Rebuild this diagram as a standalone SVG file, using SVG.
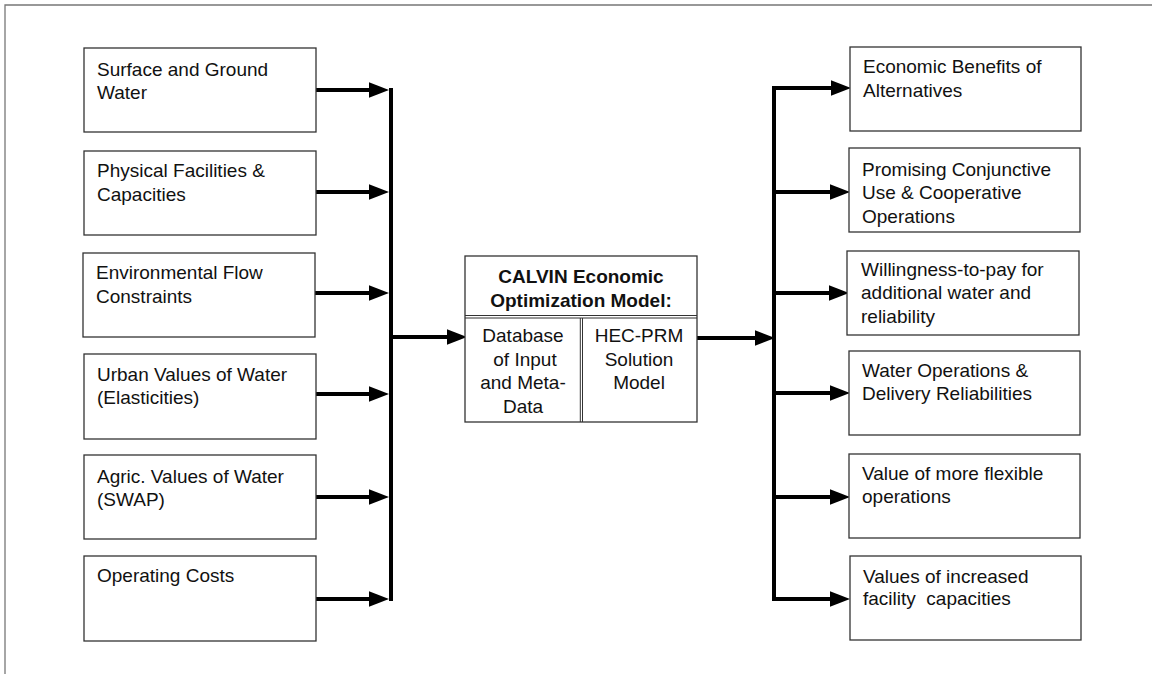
<svg xmlns="http://www.w3.org/2000/svg" width="1152" height="674" viewBox="0 0 1152 674">
<style>
.box{fill:#fff;stroke:#333;stroke-width:1.3}
.t{font-family:"Liberation Sans",Arial,sans-serif;font-size:19px;fill:#111}
.c{text-anchor:middle}
.b{font-weight:bold}
.ln{stroke:#000;stroke-width:4;fill:none}
.ar{stroke:#000;stroke-width:4;fill:none;marker-end:url(#ah)}
.frame{stroke:#777;stroke-width:1.3;fill:none}
</style>
<defs>
<marker id="ah" markerUnits="userSpaceOnUse" markerWidth="20" markerHeight="16" refX="0" refY="7" orient="auto" viewBox="0 0 18 14">
<path d="M0,0 L18,7 L0,14 z" fill="#000"/>
</marker>
</defs>
<rect width="1152" height="674" fill="#fff"/>
<path class="frame" d="M5,674 V5 H1152"/>

<g id="connectors">
<line class="ar" x1="316" y1="90" x2="369" y2="90"/>
<line class="ar" x1="316" y1="192" x2="369" y2="192"/>
<line class="ar" x1="315" y1="293" x2="369" y2="293"/>
<line class="ar" x1="316" y1="394" x2="369" y2="394"/>
<line class="ar" x1="316" y1="497" x2="369" y2="497"/>
<line class="ar" x1="316" y1="599" x2="369" y2="599"/>
<line class="ln" x1="391" y1="88" x2="391" y2="601"/>
<line class="ar" x1="391" y1="337" x2="447" y2="337"/>
<line class="ar" x1="697" y1="338" x2="755" y2="338"/>
<line class="ln" x1="774" y1="86" x2="774" y2="601"/>
<line class="ar" x1="772" y1="88" x2="831" y2="88"/>
<line class="ar" x1="772" y1="192" x2="830" y2="192"/>
<line class="ar" x1="772" y1="293" x2="829" y2="293"/>
<line class="ar" x1="772" y1="393" x2="830" y2="393"/>
<line class="ar" x1="772" y1="497" x2="830" y2="497"/>
<line class="ar" x1="772" y1="599" x2="830" y2="599"/>
</g>

<g id="in1"><rect class="box" x="84" y="48" width="232" height="84"/>
<text class="t" x="97" y="76">Surface and Ground</text><text class="t" x="97" y="99">Water</text></g>
<g id="in2"><rect class="box" x="84" y="151" width="232" height="84"/>
<text class="t" x="97" y="177">Physical Facilities &amp;</text><text class="t" x="97" y="201">Capacities</text></g>
<g id="in3"><rect class="box" x="83" y="253" width="232" height="84"/>
<text class="t" x="96" y="279">Environmental Flow</text><text class="t" x="96" y="303">Constraints</text></g>
<g id="in4"><rect class="box" x="84" y="354" width="232" height="85"/>
<text class="t" x="97" y="381">Urban Values of Water</text><text class="t" x="97" y="404">(Elasticities)</text></g>
<g id="in5"><rect class="box" x="84" y="455" width="232" height="84"/>
<text class="t" x="97" y="483">Agric. Values of Water</text><text class="t" x="97" y="506">(SWAP)</text></g>
<g id="in6"><rect class="box" x="84" y="556" width="232" height="85"/>
<text class="t" x="97" y="582">Operating Costs</text></g>

<g id="calvin">
<rect class="box" x="465" y="256" width="232" height="166"/>
<line stroke="#333" stroke-width="1" x1="465" y1="315.5" x2="697" y2="315.5"/>
<line stroke="#333" stroke-width="1" x1="465" y1="318" x2="697" y2="318"/>
<line stroke="#333" stroke-width="1" x1="580.3" y1="318" x2="580.3" y2="422"/>
<line stroke="#333" stroke-width="1" x1="582.5" y1="318" x2="582.5" y2="422"/>
<text class="t b c" x="581" y="283">CALVIN Economic</text>
<text class="t b c" x="581" y="307">Optimization Model:</text>
<text class="t c" x="523" y="342">Database</text>
<text class="t c" x="525" y="366">of Input</text>
<text class="t c" x="523" y="389">and Meta-</text>
<text class="t c" x="523" y="413">Data</text>
<text class="t c" x="639" y="342">HEC-PRM</text>
<text class="t c" x="639" y="366">Solution</text>
<text class="t c" x="639" y="389">Model</text>
</g>

<g id="out1"><rect class="box" x="850" y="47" width="231" height="84"/>
<text class="t" x="863" y="73">Economic Benefits of</text><text class="t" x="863" y="97">Alternatives</text></g>
<g id="out2"><rect class="box" x="849" y="148" width="231" height="84"/>
<text class="t" x="862" y="176">Promising Conjunctive</text><text class="t" x="862" y="199">Use &amp; Cooperative</text><text class="t" x="862" y="223">Operations</text></g>
<g id="out3"><rect class="box" x="847" y="251" width="232" height="84"/>
<text class="t" x="861" y="276">Willingness-to-pay for</text><text class="t" x="861" y="299">additional water and</text><text class="t" x="861" y="323">reliability</text></g>
<g id="out4"><rect class="box" x="849" y="351" width="231" height="84"/>
<text class="t" x="862" y="377">Water Operations &amp;</text><text class="t" x="862" y="400">Delivery Reliabilities</text></g>
<g id="out5"><rect class="box" x="849" y="454" width="231" height="84"/>
<text class="t" x="862" y="480">Value of more flexible</text><text class="t" x="862" y="503">operations</text></g>
<g id="out6"><rect class="box" x="850" y="556" width="231" height="84"/>
<text class="t" x="863" y="583">Values of increased</text><text class="t" x="863" y="605" xml:space="preserve">facility  capacities</text></g>
</svg>
